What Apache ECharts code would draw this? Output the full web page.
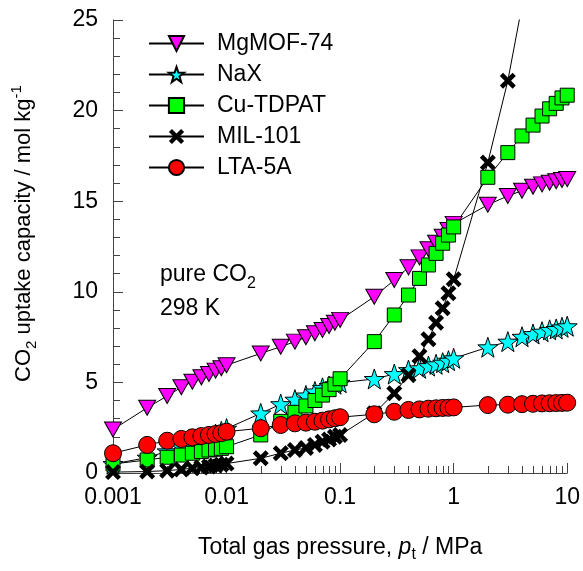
<!DOCTYPE html>
<html><head><meta charset="utf-8">
<script src="https://cdn.jsdelivr.net/npm/echarts@6/dist/echarts.min.js"></script>
<style>html,body{margin:0;padding:0;background:#fff}#c{width:583px;height:571px}</style>
</head><body><div id="c"></div>
<script>
const FONT = '"Liberation Sans", Arial, sans-serif';
const pressure = [0.001,0.002,0.003,0.004,0.005,0.006,0.007,0.008,0.009,
  0.01,0.02,0.03,0.04,0.05,0.06,0.07,0.08,0.09,
  0.1,0.2,0.3,0.4,0.5,0.6,0.7,0.8,0.9,
  1,2,3,4,5,6,7,8,9,10];
const mgmof74 = [2.4,3.6,4.25,4.73,5.04,5.28,5.46,5.65,5.78,
  5.95,6.6,6.97,7.25,7.49,7.71,7.89,8.11,8.29,
  8.45,9.73,10.65,11.35,11.9,12.35,12.71,13.04,13.41,
  13.75,14.8,15.29,15.58,15.8,15.93,16.02,16.1,16.17,16.22];
const nax = [0.5,0.85,1.2,1.45,1.65,1.85,2.0,2.15,2.3,
  2.45,3.29,3.8,4.05,4.28,4.5,4.7,4.8,4.9,
  4.98,5.19,5.46,5.68,5.78,5.9,6.0,6.09,6.2,
  6.33,6.94,7.25,7.52,7.67,7.8,7.9,7.95,8.04,8.1];
const cutdpat = [0.5,0.72,0.87,0.99,1.09,1.18,1.27,1.31,1.36,
  1.45,2.1,2.85,3.35,3.7,4.0,4.3,4.6,4.9,
  5.2,7.25,8.72,9.82,10.74,11.48,12.12,12.68,13.13,
  13.58,16.32,17.68,18.6,19.2,19.7,20.1,20.4,20.7,20.85];
const mil101 = [0.05,0.08,0.13,0.2,0.26,0.31,0.36,0.41,0.46,
  0.52,0.81,1.09,1.27,1.38,1.55,1.73,1.85,2.0,
  2.1,3.3,4.4,5.4,6.45,7.38,8.29,9.09,9.92,
  10.69,17.13,21.65,25.8];
const lta5a = [1.09,1.55,1.78,1.88,1.97,2.04,2.1,2.15,2.2,
  2.28,2.47,2.65,2.74,2.78,2.83,2.89,2.96,3.02,
  3.08,3.24,3.38,3.48,3.51,3.55,3.57,3.59,3.6,
  3.62,3.75,3.77,3.8,3.82,3.84,3.85,3.86,3.87,3.88];
const seriesNames = ['MgMOF-74','NaX','Cu-TDPAT','MIL-101','LTA-5A'];
const xMinorTicks = [0.002,0.003,0.004,0.005,0.006,0.007,0.008,0.009,
  0.02,0.03,0.04,0.05,0.06,0.07,0.08,0.09,
  0.2,0.3,0.4,0.5,0.6,0.7,0.8,0.9,
  2,3,4,5,6,7,8,9];
const xTickLabels = {0.001:'0.001',0.01:'0.01',0.1:'0.1',1:'1',10:'10'};

const STAR = 'path://M50,0 L61.76,33.82 L97.55,34.55 L69.02,56.18 L79.39,90.45 L50,70 L20.61,90.45 L30.98,56.18 L2.45,34.55 L38.24,33.82 Z';
const CROSS = 'path://M0,2 L2,0 L5,3 L8,0 L10,2 L7,5 L10,8 L8,10 L5,7 L2,10 L0,8 L3,5 Z';

function pairs(arr){ return arr.map((v,i)=>[pressure[i], v]); }

const axisColor = '#444';
const FS = 23;
const chart = echarts.init(document.getElementById('c'), null, {renderer:'canvas'});

function mk(name, arr, symbol, size, color, rotate){
  return {
    name, type:'line', data: pairs(arr), symbol, symbolSize:size, symbolRotate: rotate||0,
    showAllSymbol:true, clip:true,
    lineStyle:{color:'#000', width:1},
    itemStyle:{color, borderColor:'#000', borderWidth: symbol===CROSS?0:1},
    emphasis:{disabled:true}, animation:false
  };
}

chart.setOption({
  animation:false,
  textStyle:{fontFamily:FONT},
  grid:{left:113, right:13, top:20, bottom:98, containLabel:false},
  legend:{
    data: seriesNames, orient:'vertical', left:143, top:27,
    itemWidth:55, itemHeight:19, itemGap:8,
    textStyle:{fontSize:FS, color:'#000', fontFamily:FONT, padding:[0,0,0,8]},
    selectedMode:false
  },
  xAxis:{
    type:'log', logBase:10, min:0.001, max:10,
    name:'{a|Total gas pressure, }{i|p}{s|t}{a| / MPa}',
    nameLocation:'middle', nameGap:60,
    nameTextStyle:{rich:{
      a:{fontSize:FS, fontFamily:FONT, color:'#000', lineHeight:30},
      i:{fontSize:FS, fontFamily:FONT, fontStyle:'italic', color:'#000', lineHeight:30},
      s:{fontSize:16, fontFamily:FONT, color:'#000', verticalAlign:'bottom', lineHeight:15}
    }},
    axisLine:{show:true, lineStyle:{color:axisColor, width:1}},
    axisTick:{show:true, inside:true, length:10, lineStyle:{color:axisColor}},
    minorTick:{show:false},
    splitLine:{show:false},
    axisLabel:{fontSize:FS, color:'#000', fontFamily:FONT, margin:13,
      formatter:(v)=> xTickLabels[v] !== undefined ? xTickLabels[v] : String(v)}
  },
  yAxis:{
    type:'value', min:0, max:25, interval:5,
    name:'{a|CO}{b|2}{a| uptake capacity / mol kg}{c|-1}',
    nameLocation:'middle', nameGap:74, nameRotate:90,
    nameTextStyle:{padding:[0,0,0,26], rich:{
      a:{fontSize:22, fontFamily:FONT, color:'#000', lineHeight:30},
      b:{fontSize:15, fontFamily:FONT, color:'#000', verticalAlign:'bottom', lineHeight:15},
      c:{fontSize:15, fontFamily:FONT, color:'#000', verticalAlign:'top', lineHeight:15}
    }},
    axisLine:{show:true, lineStyle:{color:axisColor, width:1}},
    axisTick:{show:true, inside:true, length:10, lineStyle:{color:axisColor}},
    minorTick:{show:true, splitNumber:5, length:7, lineStyle:{color:axisColor}},
    splitLine:{show:false},
    axisLabel:{fontSize:FS, color:'#000', fontFamily:FONT, margin:15}
  },
  graphic:[{
    type:'text', left:160, top:263, silent:true,
    style:{
      text:'{a|pure CO}{b|2}\n{a|298 K}',
      rich:{
        a:{fontSize:FS, fontFamily:FONT, fill:'#000', lineHeight:34},
        b:{fontSize:16, fontFamily:FONT, fill:'#000', verticalAlign:'bottom', lineHeight:15}
      }
    }
  }],
  series:[
    {type:'custom', silent:true, clip:false, z:1,
      data: xMinorTicks.map(v=>[v]),
      encode:{x:0},
      renderItem:(params, api)=>{
        const p = api.coord([api.value(0), 0]);
        const x = Math.round(p[0]) + 0.5;
        return {type:'line', shape:{x1:x, y1:p[1], x2:x, y2:p[1]-7},
          style:{stroke:axisColor, lineWidth:1}};
      }},
    mk('MgMOF-74', mgmof74, 'triangle', [17,15], '#FF00FF', 180),
    mk('NaX', nax, STAR, 20, '#00FFFF'),
    mk('Cu-TDPAT', cutdpat, 'rect', 14, '#00FF00'),
    mk('MIL-101', mil101, CROSS, 16, '#000000'),
    mk('LTA-5A', lta5a, 'circle', 17, '#FF0000')
  ]
});
</script></body></html>
